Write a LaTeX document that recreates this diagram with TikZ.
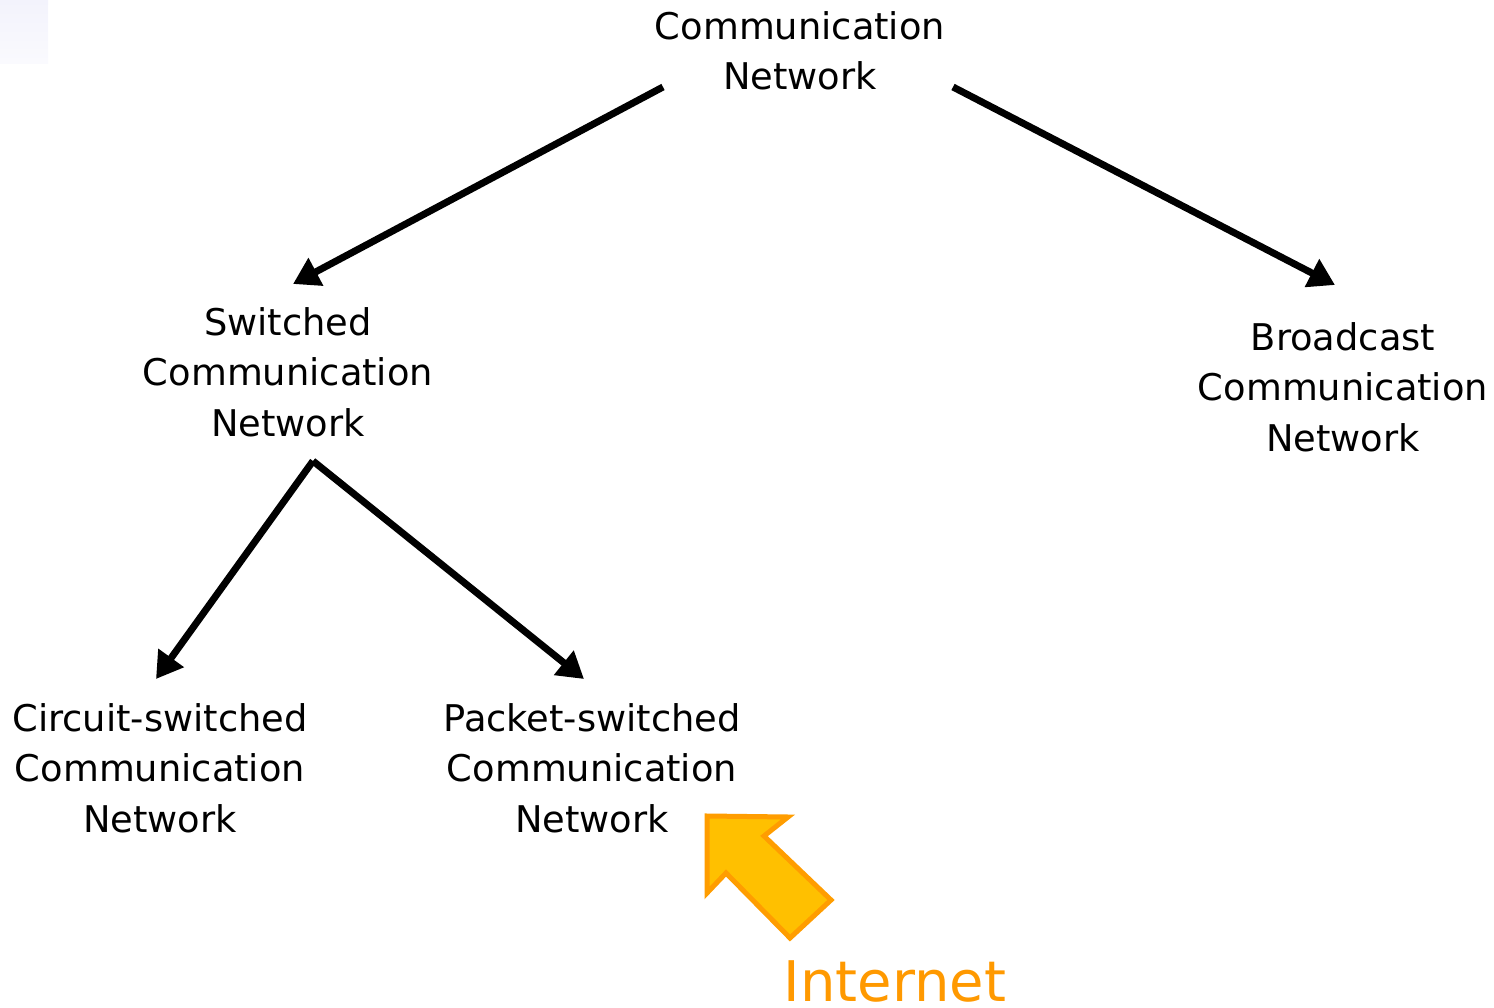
\documentclass[tikz,border=0pt]{standalone}
\usepackage{fontspec}
\setmainfont{DejaVu Sans}
\usetikzlibrary{arrows.meta}
\definecolor{blockfill}{HTML}{FFC000}
\definecolor{blockedge}{HTML}{FF9D00}
\definecolor{nettext}{HTML}{FF9900}
\definecolor{cornerbg}{HTML}{F3F3FC}
\begin{document}
\begin{tikzpicture}[x=1pt,y=-1pt,
  lbl/.style={align=center,font=\fontsize{36.8}{50.5}\selectfont,inner sep=0pt},
  conn/.style={line width=7pt,-{Triangle[length=26pt,width=30pt]}}]
\useasboundingbox (0,0) rectangle (1494,1008);
\shade[top color=cornerbg,bottom color=cornerbg!40!white] (0,0) rectangle (48,64);
\node[lbl] (cn) at (800,51) {Communication\\Network};
\node[lbl] (scn) at (288,372) {Switched\\Communication\\Network};
\node[lbl] (bcn) at (1343,387) {Broadcast\\Communication\\Network};
\node[lbl] (ccn) at (160,768) {Circuit-switched\\Communication\\Network};
\node[lbl] (pcn) at (592,768) {Packet-switched\\Communication\\Network};
\node[font=\fontsize{56}{60}\selectfont,text=nettext,inner sep=0pt] (inet) at (895,981) {Internet};
\coordinate (s1) at (663,87);
\coordinate (t1) at (293,284);
\coordinate (s2) at (953,87);
\coordinate (t2) at (1335,285);
\coordinate (apex) at (313,461);
\coordinate (t3) at (156,679);
\coordinate (t4) at (584,679);
\draw[conn] (s1) -- (t1);
\draw[conn] (s2) -- (t2);
\draw[conn] (apex) -- (t3);
\draw[conn] (apex) -- (t4);
\draw[fill=blockfill,draw=blockedge,line width=5pt,line join=miter]
  (707,816) -- (788,817) -- (764,836) -- (831,900) -- (790,938) -- (726,873) -- (707,893) -- cycle;
\end{tikzpicture}
\end{document}
